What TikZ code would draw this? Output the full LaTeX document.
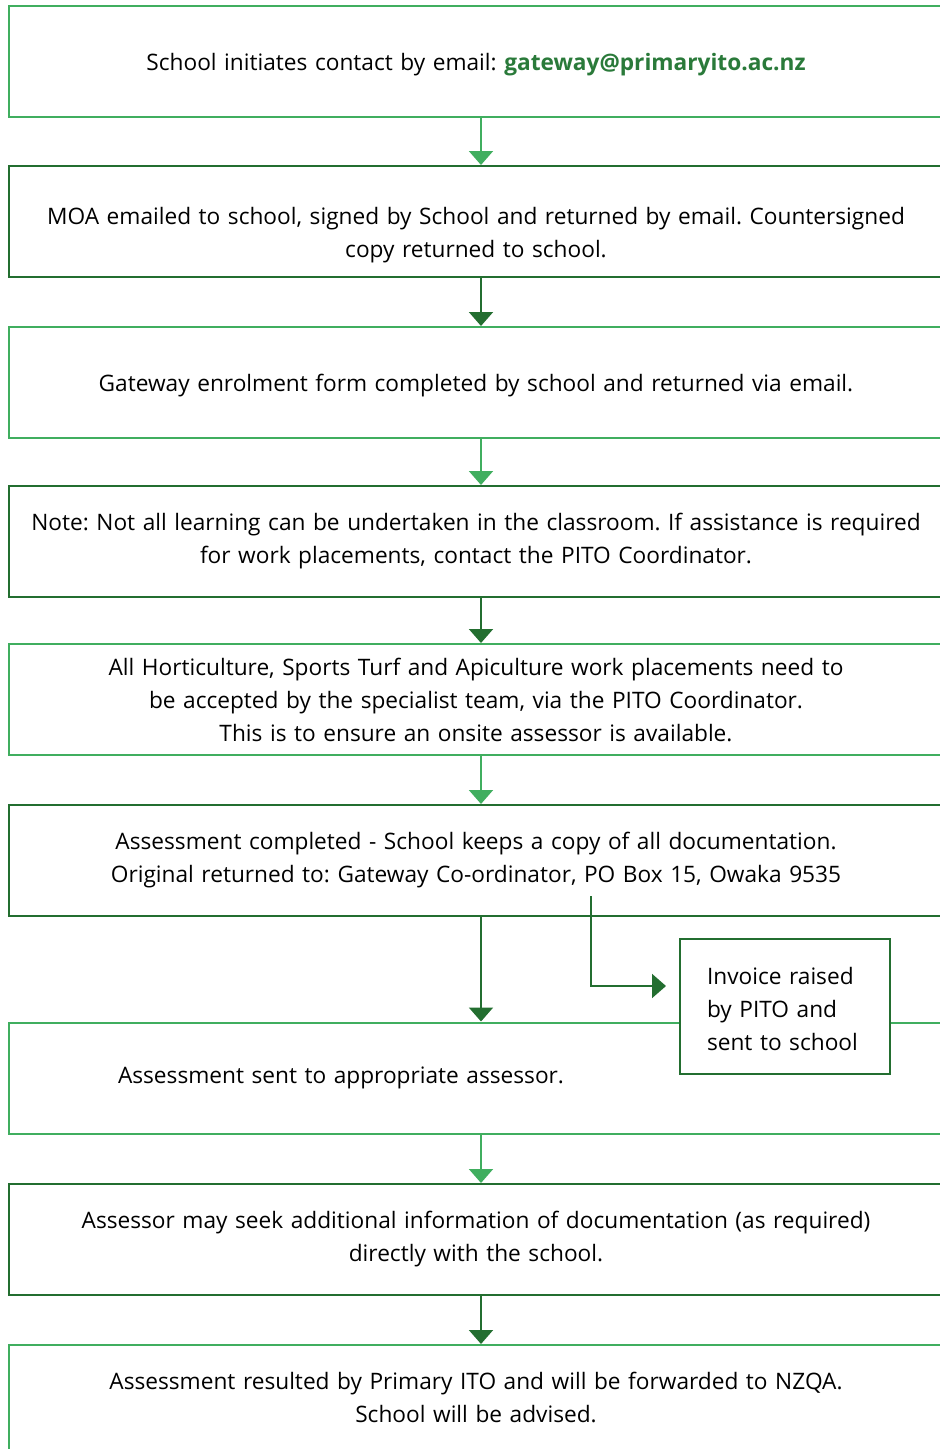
\documentclass[tikz,border=0pt]{standalone}
\usepackage{fontspec}
\setmainfont{Open Sans}
\usetikzlibrary{arrows.meta}
\definecolor{lgreen}{RGB}{64,174,95}
\definecolor{dgreen}{RGB}{35,110,48}
\definecolor{mailgreen}{RGB}{42,122,58}
\frenchspacing

\begin{document}
\begin{tikzpicture}[x=.75pt,y=-.75pt,line width=1.5pt,
  flowbox/.style={draw,fill=white,minimum width=700.5pt,minimum height=83.25pt,inner sep=0pt,text width=670pt,align=center,font=\fontsize{17}{24.75}\selectfont},
  sidebox/.style={draw=dgreen,fill=white,minimum height=101.25pt,inner xsep=20.25pt,inner ysep=0pt,text width=117pt,align=left,font=\fontsize{17}{24.75}\selectfont},
  flowarrow/.style={-{Triangle[width=18pt,length=10.5pt]}}]
\useasboundingbox (0,0) rectangle (939,1449);
\coordinate (ax) at (481,0);
\node[flowbox,draw=lgreen] (b1) at (476,61.5) {\rule{0pt}{17.5pt}School initiates contact by email: {\color{mailgreen}\bfseries gateway@primaryito.ac.nz}};
\node[flowbox,draw=dgreen] (b2) at (476,221.5) {\rule{0pt}{34pt}MOA emailed to school, signed by School and returned by email. Countersigned\\copy returned to school.};
\node[flowbox,draw=lgreen] (b3) at (476,382.5) {\rule{0pt}{17.5pt}Gateway enrolment form completed by school and returned via email.};
\node[flowbox,draw=dgreen] (b4) at (476,541.5) {Note: Not all learning can be undertaken in the classroom. If assistance is required\\for work placements, contact the PITO Coordinator.};
\node[flowbox,draw=lgreen] (b5) at (476,699.5) {All Horticulture, Sports Turf and Apiculture work placements need to\\be accepted by the specialist team, via the PITO Coordinator.\\This is to ensure an onsite assessor is available.};
\node[flowbox,draw=dgreen] (b6) at (476,860.5) {Assessment completed - School keeps a copy of all documentation.\\Original returned to: Gateway Co-ordinator, PO Box 15, Owaka 9535};
\node[flowbox,draw=lgreen,text width=537pt,inner xsep=81.75pt,align=left] (b7) at (476,1078) {Assessment sent to appropriate assessor.};
\node[flowbox,draw=dgreen] (b8) at (476,1239.5) {Assessor may seek additional information of documentation (as required)\\directly with the school.};
\node[flowbox,draw=lgreen,minimum height=78.75pt] (b9) at (476,1397.5) {Assessment resulted by Primary ITO and will be forwarded to NZQA.\\School will be advised.};
\node[sidebox] (inv) at (785,1006.5) {\rule{0pt}{16.7pt}Invoice raised\\by PITO and\\sent to school};
\foreach \a/\b/\c in {b1/b2/lgreen,b2/b3/dgreen,b3/b4/lgreen,b4/b5/dgreen,b5/b6/lgreen,b6/b7/dgreen,b7/b8/lgreen,b8/b9/dgreen}
\draw[flowarrow,\c] (\a.south -| ax) -- (\b.north -| ax);
\coordinate (elb) at (591,896);
\draw[flowarrow,dgreen,shorten >=9.75pt] (elb) |- ([yshift=15.375pt]inv.west);
\end{tikzpicture}
\end{document}
